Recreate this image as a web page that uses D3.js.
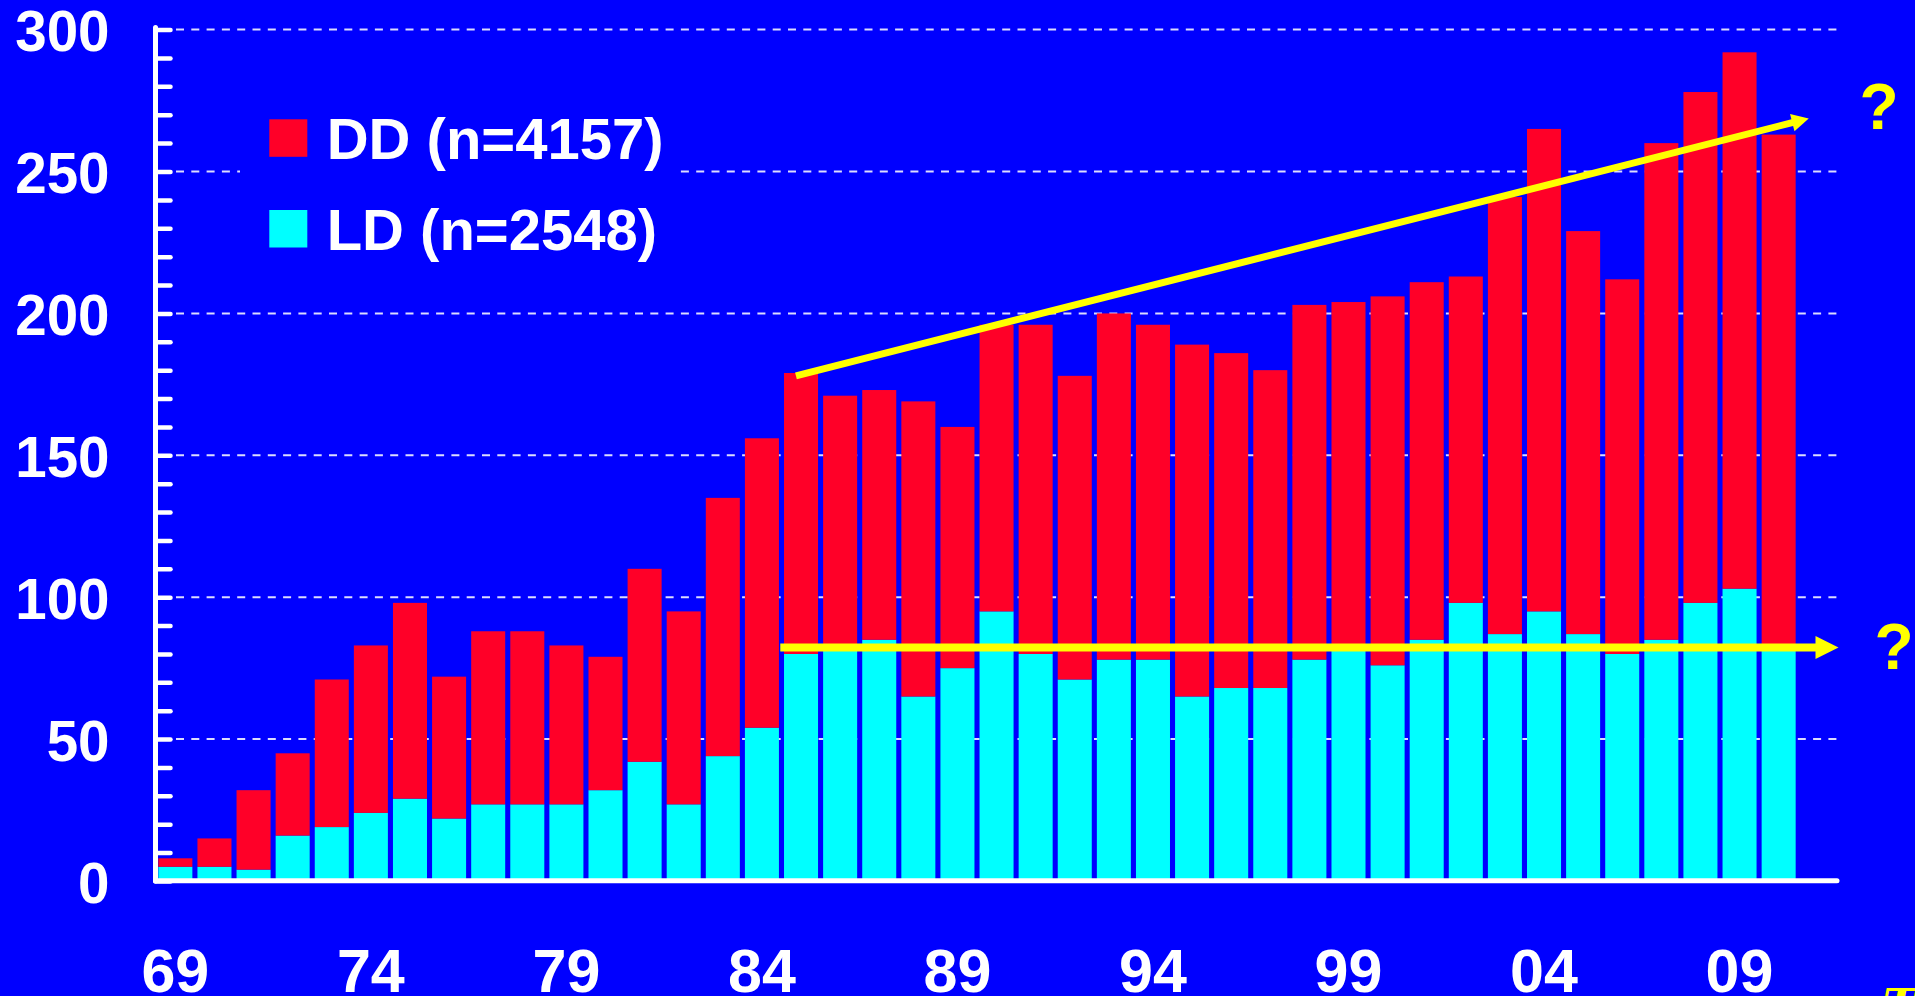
<!DOCTYPE html>
<html>
<head>
<meta charset="utf-8">
<script src="https://cdn.jsdelivr.net/npm/d3@7"></script>
<style>
  html, body { margin: 0; padding: 0; background: #0000ff; overflow: hidden; }
  svg { display: block; font-family: 'Liberation Sans', Arial, Helvetica, sans-serif; font-weight: bold; }
</style>
</head>
<body>
<svg width="1915" height="996"></svg>
<script>
const years = [
  1969, 1970, 1971, 1972, 1973, 1974, 1975, 1976, 1977, 1978, 1979, 1980, 1981, 1982,
  1983, 1984, 1985, 1986, 1987, 1988, 1989, 1990, 1991, 1992, 1993, 1994, 1995, 1996,
  1997, 1998, 1999, 2000, 2001, 2002, 2003, 2004, 2005, 2006, 2007, 2008, 2009, 2010,
]
const ldCounts = [
  5, 5, 4, 16, 19, 24, 29, 22, 27, 27, 27, 32, 42, 27,
  44, 54, 80, 82, 85, 65, 75, 95, 80, 71, 78, 78, 65, 68,
  68, 78, 82, 76, 85, 98, 87, 95, 87, 80, 85, 98, 103, 82,
]
const ddCounts = [
  3, 10, 28, 29, 52, 59, 69, 50, 61, 61, 56, 47, 68, 68,
  91, 102, 99, 89, 88, 104, 85, 101, 116, 107, 122, 118, 124, 118,
  112, 125, 122, 130, 126, 115, 154, 170, 142, 132, 175, 180, 189, 181,
]
const seriesKeys = ['ld', 'dd']
const seriesColors = {ld: '#00ffff', dd: '#ff0028'}
const legendItems = [
  {key: 'dd', label: 'DD (n=4157)'},
  {key: 'ld', label: 'LD (n=2548)'},
]
const yLabelTicks = [0, 50, 100, 150, 200, 250, 300]
const yGridTicks = [50, 100, 150, 200, 250, 300]
const xTickYears = [1969, 1974, 1979, 1984, 1989, 1994, 1999, 2004, 2009]
const xTickLabels = ['69', '74', '79', '84', '89', '94', '99', '04', '09']

// trend arrows, in data units (year, count)
const trendArrows = [
  {x1: 1984.87, y1: 178, x2: 2010.77, y2: 268.7, width: 7, headLen: 17, headWidth: 18, qx: 2012.57, qy: 264.9},
  {x1: 1984.47, y1: 82.3, x2: 2011.53, y2: 82.3, width: 8, headLen: 23, headWidth: 23, qx: 2012.95, qy: 74.7},
]

const svg = d3.select('svg')

const x = d3.scaleBand()
  .domain(years)
  .range([155.8, 1798.2])
  .paddingInner(0.13)
  .paddingOuter(0.065)

const y = d3.scaleLinear()
  .domain([0, 300])
  .range([881, 29.6])

// continuous year scale through the band centres, for annotations
const xYear = d3.scaleLinear()
  .domain([years[0], years[years.length - 1]])
  .range([x(years[0]) + x.bandwidth() / 2, x(years[years.length - 1]) + x.bandwidth() / 2])

const axisX = 155.5
const gridRight = 1837

// Gridlines
svg.append('g')
  .selectAll('line')
  .data(yGridTicks)
  .enter()
  .append('line')
  .attr('x1', 176)
  .attr('x2', gridRight)
  .attr('y1', d => y(d))
  .attr('y2', d => y(d))
  .attr('stroke', '#dcdcff')
  .attr('stroke-width', 2)
  .attr('stroke-dasharray', '8,7.3')

// Stacked bars
const rows = years.map((yr, i) => ({year: yr, ld: ldCounts[i], dd: ddCounts[i]}))
const stacked = d3.stack().keys(seriesKeys)(rows)

svg.append('g')
  .selectAll('g')
  .data(stacked)
  .enter()
  .append('g')
  .attr('fill', s => seriesColors[s.key])
  .selectAll('rect')
  .data(s => s)
  .enter()
  .append('rect')
  .attr('x', d => x(d.data.year))
  .attr('width', x.bandwidth())
  .attr('y', d => y(d[1]))
  .attr('height', d => y(d[0]) - y(d[1]))

// Legend (blue box hides the gridline behind it)
const legend = svg.append('g')
legend.append('rect')
  .attr('x', 240).attr('y', 95)
  .attr('width', 440).attr('height', 175)
  .attr('fill', '#0000ff')
legendItems.forEach((item, i) => {
  const top = 119.3 + i * 90.7
  legend.append('rect')
    .attr('x', 269.3).attr('y', top)
    .attr('width', 38).attr('height', 37.5)
    .attr('fill', seriesColors[item.key])
  legend.append('text')
    .attr('x', 326.7).attr('y', top + 39.8)
    .attr('fill', '#fff')
    .attr('font-size', 58)
    .text(item.label)
})

// Y axis: line, inner ticks every 10, labels every 50
const yAxis = svg.append('g')
  .attr('transform', `translate(${axisX},0)`)
  .call(d3.axisRight(y).tickValues(d3.range(0, 301, 10)).tickSize(15).tickFormat(''))
yAxis.select('.domain').remove()
yAxis.selectAll('.tick line')
  .attr('stroke', '#fff')
  .attr('stroke-width', 4.5)
  .attr('stroke-linecap', 'round')

svg.append('line')
  .attr('x1', axisX).attr('x2', axisX)
  .attr('y1', y(300) - 2).attr('y2', y(0))
  .attr('stroke', '#fff')
  .attr('stroke-width', 5)
  .attr('stroke-linecap', 'round')

svg.append('g')
  .selectAll('text')
  .data(yLabelTicks)
  .enter()
  .append('text')
  .attr('x', 109.5)
  .attr('y', d => y(d) + 21.5)
  .attr('text-anchor', 'end')
  .attr('fill', '#fff')
  .attr('font-size', 56.5)
  .text(d => d)

// X axis line and labels
svg.append('line')
  .attr('x1', axisX).attr('x2', gridRight)
  .attr('y1', 880.8).attr('y2', 880.8)
  .attr('stroke', '#fff')
  .attr('stroke-width', 5)
  .attr('stroke-linecap', 'round')

svg.append('g')
  .selectAll('text')
  .data(xTickYears)
  .enter()
  .append('text')
  .attr('x', d => x(d) + x.bandwidth() / 2)
  .attr('y', 991.5)
  .attr('text-anchor', 'middle')
  .attr('fill', '#fff')
  .attr('font-size', 61)
  .text((d, i) => xTickLabels[i])

// Trend arrows with question marks
const arrows = svg.append('g')
trendArrows.forEach(a => {
  const sx = xYear(a.x1), sy = y(a.y1)
  const tx = xYear(a.x2), ty = y(a.y2)
  const ang = Math.atan2(ty - sy, tx - sx)
  const bx = tx - a.headLen * Math.cos(ang)
  const by = ty - a.headLen * Math.sin(ang)
  const nx = -Math.sin(ang) * a.headWidth / 2
  const ny = Math.cos(ang) * a.headWidth / 2

  arrows.append('line')
    .attr('x1', sx).attr('y1', sy)
    .attr('x2', bx + Math.cos(ang)).attr('y2', by + Math.sin(ang))
    .attr('stroke', '#ffff00')
    .attr('stroke-width', a.width)
  arrows.append('polygon')
    .attr('points', [[tx, ty], [bx + nx, by + ny], [bx - nx, by - ny]].map(p => p.join(',')).join(' '))
    .attr('fill', '#ffff00')
  arrows.append('text')
    .attr('x', xYear(a.qx))
    .attr('y', y(a.qy))
    .attr('text-anchor', 'middle')
    .attr('fill', '#ffff00')
    .attr('font-size', 64)
    .text('?')
})

// clipped logo glyph in the corner
svg.append('text')
  .attr('x', 1883)
  .attr('y', 1021)
  .attr('fill', '#ffff00')
  .attr('font-family', "'DejaVu Serif', serif")
  .attr('font-style', 'italic')
  .attr('font-size', 44)
  .text('T')
</script>
</body>
</html>
